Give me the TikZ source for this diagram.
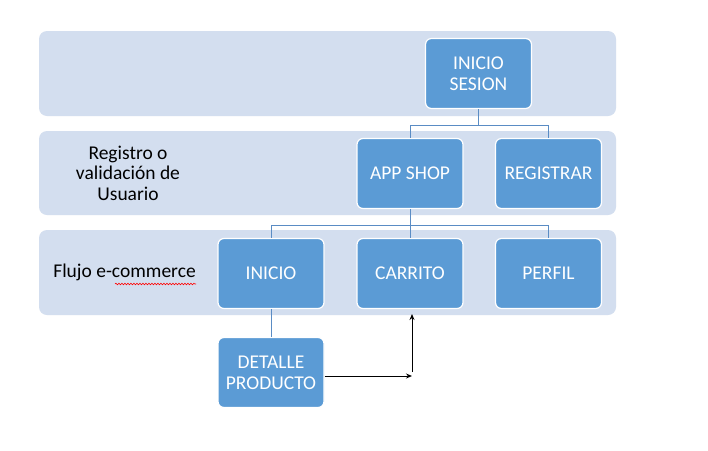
\documentclass[tikz,border=0pt]{standalone}
\usepackage{fontspec}
\setmainfont{Carlito}
\usetikzlibrary{arrows.meta,decorations.pathmorphing}
\definecolor{bandc}{HTML}{D3DEEF}
\definecolor{boxc}{HTML}{5B9BD5}
\definecolor{linec}{HTML}{5A8CC4}
\tikzset{
  band/.style={fill=bandc, draw=none, rounded corners=8pt},
  boxn/.style={draw=white, line width=1.2pt, fill=boxc, rounded corners=6pt,
    minimum width=106pt, minimum height=70pt, inner sep=0pt, text=white,
    align=center, font=\fontsize{19.5}{21}\selectfont},
  lbl/.style={align=center, font=\fontsize{19.5}{20.5}\selectfont, text=black},
  conn/.style={draw=linec, line width=1pt},
  arr/.style={draw=black, line width=1pt, -{Stealth[length=6pt,width=5pt]}},
  squig/.style={red, line width=0.6pt, decorate, decoration={snake, amplitude=0.8pt, segment length=3pt}}
}
\begin{document}
\begin{tikzpicture}[x=1pt,y=-1pt]
\useasboundingbox (0,0) rectangle (708,450);
\fill[white] (0,0) rectangle (708,450);
% bands
\path[band] (39,31) rectangle (616,116);
\path[band] (39,131) rectangle (616,215);
\path[band] (39,230) rectangle (616,315);
% boxes
\node[boxn] (ses) at (478.5,73.5) {INICIO\\SESION};
\node[boxn] (app) at (410,173.5) {APP SHOP};
\node[boxn] (reg) at (548.5,173.5) {REGISTRAR};
\node[boxn] (ini) at (271,273.5) {INICIO};
\node[boxn] (car) at (410,273.5) {CARRITO};
\node[boxn] (per) at (548.5,273.5) {PERFIL};
\node[boxn] (det) at (271,372.5) {DETALLE\\PRODUCTO};
% labels
\node[lbl] (l1) at (128,173) {Registro o\\validación de\\Usuario};
\node[lbl] (l2) at (124.5,272) {Flujo e-commerce};
\draw[squig] (115,284) -- (196,284);
% tree connectors
\draw[conn] (ses.south) -- ++(0,16) -| (app.north);
\draw[conn] (ses.south) ++(0,16) -| (reg.north);
\draw[conn] (app.south) -- ++(0,16) -| (ini.north);
\draw[conn] (app.south) ++(0,16) -| (per.north);
\draw[conn] (app.south) -- (car.north);
\draw[conn] (ini.south) -- (det.north);
% arrows
\coordinate (corner) at (412,376);
\coordinate (vstart) at (412,372);
\coordinate (cartip) at (412,314);
\draw[arr] (det.east |- corner) -- (corner);
\draw[arr] (vstart) -- (cartip);
\end{tikzpicture}
\end{document}
